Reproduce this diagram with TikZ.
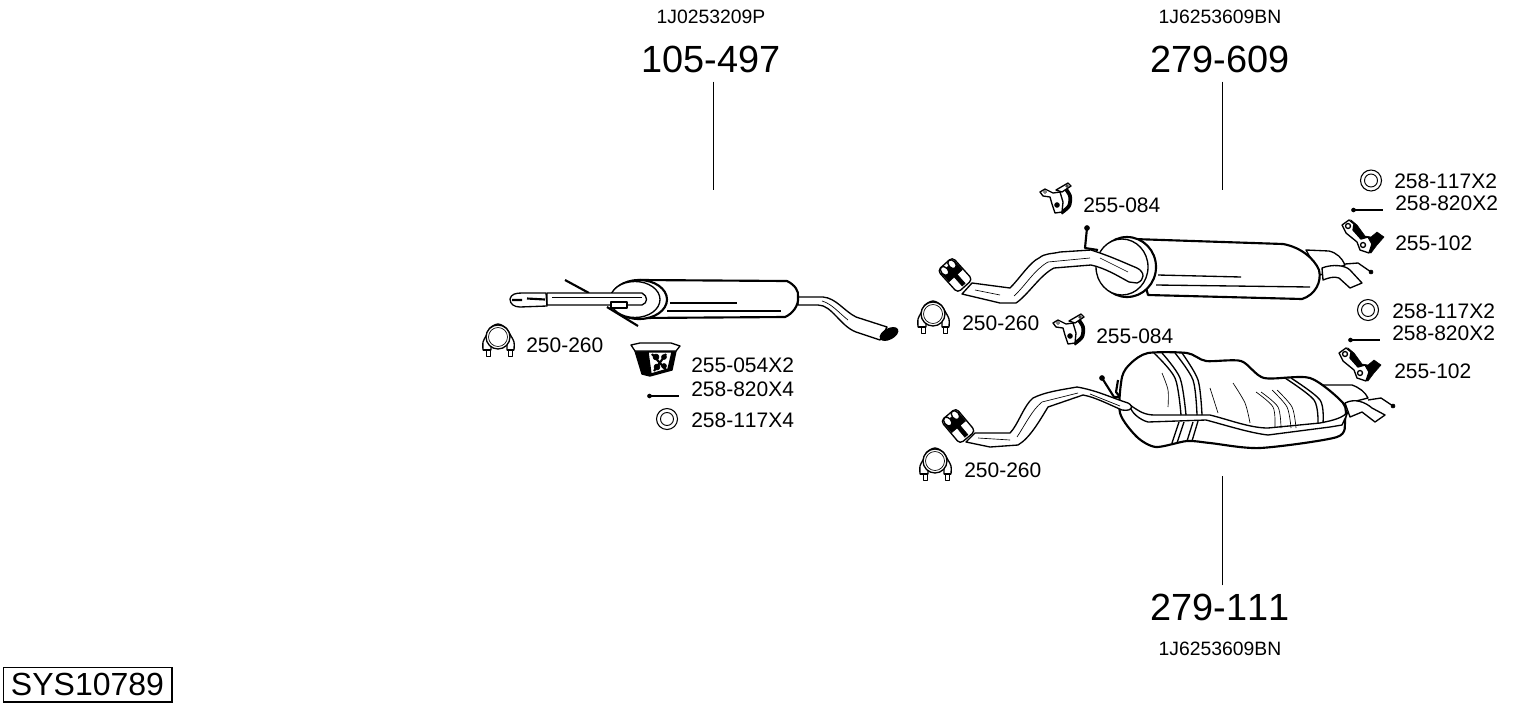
\documentclass[tikz,border=0pt]{standalone}
\usepackage{fontspec}
\setmainfont{Liberation Sans}[Kerning=Off]
\usetikzlibrary{arrows}

\tikzset{
  smallpart/.style={yscale=-1},
  partline/.style={line width=1pt,line join=round},
  fineline/.style={line width=0.5pt,line join=round},
  heavyline/.style={line width=1.6pt,line join=round},
  partlabel/.style={anchor=west,inner sep=0pt,font=\fontsize{15.75}{18}\selectfont},
  reflabel/.style={inner sep=0pt,font=\fontsize{14.5}{17}\selectfont},
  numlabel/.style={inner sep=0pt,font=\fontsize{28.4}{32}\selectfont},
  leader/.style={line width=0.75pt},
  ringpart/.pic={
    \draw[line width=0.8pt] (0,0) circle [radius=10.5];
    \draw[line width=0.7pt] (0,0) circle [radius=6.5];
  },
  boltpart/.pic={
    \draw[line width=0.9pt] (2,0) -- (18,0);
    \draw[line width=1.6pt] (18,0) -- (31,0);
    \draw[fill=black] (1.5,0) circle [radius=2];
  },
  clamppart/.pic={
    \draw[partline,fill=white] plot[smooth] coordinates {(-16,9) (-16,1) (-13,-5) (-9,-13) (-1,-17) (7,-13) (12,-5) (15,1) (15,9)} -- (8,9) -- (8,2) -- (-8,2) -- (-8,9) -- cycle;
    \draw[partline,fill=white] (-1,-4) circle [radius=12];
    \draw[fineline] (-1,-4) circle [radius=9.5];
    \draw[fineline,fill=white] (-13,9) rectangle (-9,15);
    \draw[fineline,fill=white] (9,9) rectangle (13,15);
    \draw[heavyline] (-16,9) -- (-8,9) (15,9) -- (8,9);
  },
  mountpart/.pic={
    \draw[heavyline,line width=2.8pt] plot[smooth] coordinates {(24,4) (29,12) (28,22) (20,29)};
    \draw[partline,fill=white] (-1,8) -- (4,5) -- (12,9) -- (19,8) -- (22,18) -- (21,28) -- (14,29) -- (11,20) -- (9,13) -- (2,12) -- cycle;
    \draw[partline,fill=white] (15,6) -- (27,-1) -- (30,2) -- (21,8) -- cycle;
    \draw[fineline,fill=black] (16,21) circle [radius=2.4];
    \draw[fineline] (4,8) circle [radius=1.5] (26,2) circle [radius=1.3];
  },
  hangerpart/.pic={
    \draw[draw=black,fill=black] (5,0) -- (11,5) -- (19,16) -- (25,17) -- (31,12) -- (38,17) -- (31,25) -- (25,33) -- (14,30) -- cycle;
    \draw[partline,fill=white] (-4,5) -- (3,0) -- (8,4) -- (7,10) -- (15,19) -- (22,17) -- (26,24) -- (23,33) -- (14,30) -- (11,22) -- (0,13) -- cycle;
    \draw[partline,fill=white] (2,6) circle [radius=2.5];
    \draw[partline,fill=white] (17,25) circle [radius=2.5];
  },
  tailpart/.pic={
    \draw[partline,fill=white,rounded corners=3pt] (-15,-10) rectangle (15,10);
    \draw[draw=black,fill=black] (-11,-9) -- (1,-9) -- (1,-2) -- (13,-2) -- (13,2) -- (1,2) -- (1,9) -- (-11,9) -- cycle;
    \draw[partline,fill=white] (-10,-5) ellipse [x radius=5,y radius=3.5];
    \draw[partline,fill=white] (-10,5) ellipse [x radius=5,y radius=3.5];
  },
}

\begin{document}
\begin{tikzpicture}[x=0.75pt,y=0.75pt,yscale=-1,xscale=1]
\useasboundingbox (0,0) rectangle (1530,711);

%Middle muffler
\draw[partline,fill=white] (798,297) -- (823,297) .. controls (836,298) and (844,311) .. (856,317) -- (887,327) -- (880,340) -- (856,332) .. controls (840,326) and (832,305) .. (818,305) -- (798,305) -- cycle;
\draw[fineline] (822,301) .. controls (832,304) and (838,312) .. (848,320);
\draw[partline,fill=black] (889,334) ellipse [x radius=9.5,y radius=5,rotate=-28];
\draw[heavyline] (565,280) -- (589,293);
\draw[heavyline] (607,307) -- (638,326);
\draw[heavyline,fill=white] (640,280) -- (787,281) .. controls (795,285) and (799,291) .. (798,297) .. controls (799,306) and (792,314) .. (785,317) -- (640,318) -- cycle;
\draw[heavyline,fill=white] (639,299.5) ellipse [x radius=28,y radius=19.5];
\draw[partline,fill=white] (635,299.5) ellipse [x radius=25,y radius=18];
\draw[partline] (670,303) -- (737,303);
\draw[partline] (667,311) -- (781,311);
\draw[partline,fill=white] (547,293) -- (642,293) .. controls (648,296) and (648,303) .. (642,305) -- (547,305) -- cycle;
\draw[fineline] (552,297) -- (642,297);
\draw[partline,fill=white] (510,299) .. controls (511,294) and (516,293) .. (522,293) -- (546,293) -- (547,306) -- (520,307) .. controls (514,307) and (510,304) .. (510,299) -- cycle;
\draw[heavyline] (512,300) -- (522,300) (527,298.5) -- (545,299.5);
\draw[partline,fill=white] (611,302) rectangle (627,308);

%Rear muffler, top
\draw[partline,fill=white] (1306,250) -- (1329,251) .. controls (1337,253) and (1342,258) .. (1345,265) -- (1320,275) -- cycle;
\draw[partline,fill=white] (1322,268) .. controls (1332,264) and (1345,265) .. (1350,270) -- (1362,283) -- (1350,288) -- (1339,278) .. controls (1334,276) and (1328,278) .. (1323,280) -- cycle;
\draw[partline] (1345,264) -- (1358,263) -- (1371,272);
\draw[fill=black] (1371,272) circle [radius=2];
\draw[heavyline] (1087,228) -- (1085,248) -- (1098,250);
\draw[fill=black] (1087,228) circle [radius=2.5];
\draw[heavyline,fill=white] (1133,239) -- (1283,244) .. controls (1300,247) and (1314,258) .. (1319,270) .. controls (1322,282) and (1315,295) .. (1302,299) -- (1148,295) -- cycle;
\draw[heavyline,fill=white] (1127,267) ellipse [x radius=29,y radius=30];
\draw[partline,fill=white] (1122,267) ellipse [x radius=26,y radius=28];
\draw[partline] (1158,275) -- (1241,277);
\draw[partline] (1156,285) -- (1310,287);
\draw[partline,fill=white] (972,283) -- (1010,288) .. controls (1020,278) and (1030,262) .. (1039,258) .. controls (1045,253) and (1052,254) .. (1060,252) -- (1091,250) .. controls (1110,256) and (1125,263) .. (1137,268) .. controls (1145,272) and (1145,280) .. (1137,283) -- (1129,282) .. controls (1118,276) and (1105,268) .. (1091,265) -- (1054,268) .. controls (1040,275) and (1028,295) .. (1016,303) -- (1000,303) -- (962,294) -- cycle;
\draw[fineline] (1014,296) .. controls (1026,285) and (1034,270) .. (1048,262) -- (1090,258) (975,290) -- (1000,295) (1100,258) -- (1128,272);
\pic[smallpart,rotate=48] at (955,275) {tailpart};

%Rear muffler, bottom
\draw[partline,fill=white] (1323,385) -- (1352,385) .. controls (1360,388) and (1365,392) .. (1368,398) -- (1340,405) -- cycle;
\draw[partline,fill=white] (1345,403) .. controls (1355,398) and (1365,402) .. (1372,408) -- (1385,415) -- (1375,422) -- (1362,412) -- (1350,417) -- cycle;
\draw[partline] (1368,400) -- (1381,398) -- (1393,406);
\draw[fill=black] (1393,406) circle [radius=2];
\draw[heavyline] (1102,378) -- (1114,397) -- (1128,397);
\draw[fill=black] (1102,378) circle [radius=2.5];
\draw[heavyline] (1118,380) -- (1116,392) -- (1120,397);
\draw[heavyline,fill=white] plot[smooth cycle,tension=0.45] coordinates {(1131,363) (1148,353) (1187,353) (1206,361) (1241,361) (1264,378) (1310,378) (1343,403) (1345,420) (1337,437) (1260,448) (1210,443) (1187,441) (1156,447) (1137,437) (1120,413) (1122,377)};
\draw[partline,fill=white] (1130,405) .. controls (1140,412) and (1145,415) .. (1155,415) -- (1210,415) .. controls (1230,420) and (1250,428) .. (1268,428) -- (1320,423) .. controls (1335,420) and (1342,418) .. (1348,412) -- (1342,425) -- (1330,427) -- (1268,435) .. controls (1250,433) and (1225,425) .. (1206,420) -- (1148,422) .. controls (1140,420) and (1130,412) .. (1130,405) -- cycle;
\draw[partline] plot[smooth] coordinates {(1154,353) (1175,378) (1181,415)};
\draw[partline] plot[smooth] coordinates {(1162,353) (1180,378) (1186,415)};
\draw[partline] plot[smooth] coordinates {(1175,353) (1193,380) (1197,415)};
\draw[partline] plot[smooth] coordinates {(1182,353) (1198,380) (1202,415)};
\draw[partline] (1179,422) -- (1172,443) (1184,422) -- (1177,443) (1193,422) -- (1187,441) (1198,421) -- (1192,441);
\draw[partline] plot[smooth] coordinates {(1285,378) (1314,400) (1318,423)};
\draw[partline] plot[smooth] coordinates {(1291,378) (1320,400) (1323,423)};
\draw[fineline] plot[smooth] coordinates {(1256,392) (1273,407) (1275,427)};
\draw[fineline] plot[smooth] coordinates {(1261,392) (1278,407) (1281,428)};
\draw[fineline] plot[smooth] coordinates {(1272,390) (1287,407) (1291,428)};
\draw[fineline] plot[smooth] coordinates {(1277,390) (1292,407) (1296,428)};
\draw[fineline] plot[smooth] coordinates {(1233,383) (1245,403) (1250,423)};
\draw[fineline] plot[smooth] coordinates {(1210,388) (1218,413)};
\draw[fineline] plot[smooth] coordinates {(1162,373) (1168,390) (1168,407)};
\draw[partline,fill=white] (975,433) -- (1010,433) .. controls (1018,425) and (1024,405) .. (1033,398) .. controls (1045,392) and (1060,390) .. (1077,387) .. controls (1095,390) and (1110,397) .. (1125,402) .. controls (1134,404) and (1134,412) .. (1122,410) .. controls (1110,405) and (1095,397) .. (1083,395) -- (1048,407) .. controls (1040,420) and (1030,438) .. (1018,445) -- (990,447) -- (966,442) -- cycle;
\draw[fineline] (1017,437) .. controls (1025,425) and (1032,410) .. (1042,402) -- (1078,393) (978,438) -- (1010,440) (1090,394) -- (1120,406);
\pic[smallpart,rotate=50] at (958,426) {tailpart};

%Small parts
\pic[smallpart] at (499,341) {clamppart};
\pic[smallpart] at (934,318) {clamppart};
\pic[smallpart] at (936,465) {clamppart};
\pic[smallpart] at (1371,180.5) {ringpart};
\pic[smallpart] at (1368,310) {ringpart};
\pic[smallpart] at (667,419) {ringpart};
\pic[smallpart] at (1352,210) {boltpart};
\pic[smallpart] at (1349,340) {boltpart};
\pic[smallpart] at (648,396) {boltpart};
\pic[smallpart] at (1041,184) {mountpart};
\pic[smallpart] at (1054,315) {mountpart};
\pic[smallpart] at (1346,220) {hangerpart};
\pic[smallpart] at (1343,348) {hangerpart};

%Rubber mount 255-054
\draw[partline,fill=black] (635,351) -- (676,351) -- (672,370) -- (650,376) -- (642,374) -- cycle;
\draw[partline,fill=white] (631,345) -- (640,343) -- (671,343) -- (680,346) -- (676,351) -- (635,351) -- cycle;
\draw[partline,fill=white] (648,352) -- (672,352) -- (668,369) -- (651,374) -- cycle;
\draw[line width=1.6pt] (652,354) -- (667,371) (666,354) -- (654,371);
\draw[fill=black] (656,357) circle [radius=3] (664,357) circle [radius=2.5] (657,367) circle [radius=3] (664,366) circle [radius=2.5];

% Text Node
\draw (711,17) node (ref105) [reflabel] {1J0253209P};
\draw (711,59.5) node (num105) [numlabel] {105-497};
\draw (1220,17) node (ref609) [reflabel] {1J6253609BN};
\draw (1220,59.5) node (num609) [numlabel] {279-609};
\draw (1220,607) node (num111) [numlabel] {279-111};
\draw (1220,649) node (ref111) [reflabel] {1J6253609BN};
\draw (526,345) node (lblclampa) [partlabel] {250-260};
\draw (691,365) node (lblmounta) [partlabel] {255-054X2};
\draw (691,389) node (lblbolta) [partlabel] {258-820X4};
\draw (691,420) node (lblringa) [partlabel] {258-117X4};
\draw (1083,205) node (lblmountb) [partlabel] {255-084};
\draw (1394,181) node (lblringb) [partlabel] {258-117X2};
\draw (1395,203) node (lblboltb) [partlabel] {258-820X2};
\draw (1395,243) node (lblhangb) [partlabel] {255-102};
\draw (962,323) node (lblclampb) [partlabel] {250-260};
\draw (1096,336) node (lblmountc) [partlabel] {255-084};
\draw (1392,311) node (lblringc) [partlabel] {258-117X2};
\draw (1392,333) node (lblboltc) [partlabel] {258-820X2};
\draw (1394,371) node (lblhangc) [partlabel] {255-102};
\draw (964,470) node (lblclampc) [partlabel] {250-260};

%Leader lines
\coordinate (end105) at (713,190);
\coordinate (end609) at (1222,190);
\coordinate (end111) at (1222,476);
\draw[leader] (num105.south -| end105) ++(0,8.5) -- (end105);
\draw[leader] (num609.south -| end609) ++(0,8.5) -- (end609);
\draw[leader] (num111.north -| end111) ++(0,-8) -- (end111);

%System number
\draw (87.5,684.5) node (sysbox) [draw,line width=1pt,minimum width=126.5pt,minimum height=26pt,inner sep=0pt,font=\fontsize{24}{28}\selectfont] {SYS10789};

\end{tikzpicture}
\end{document}
